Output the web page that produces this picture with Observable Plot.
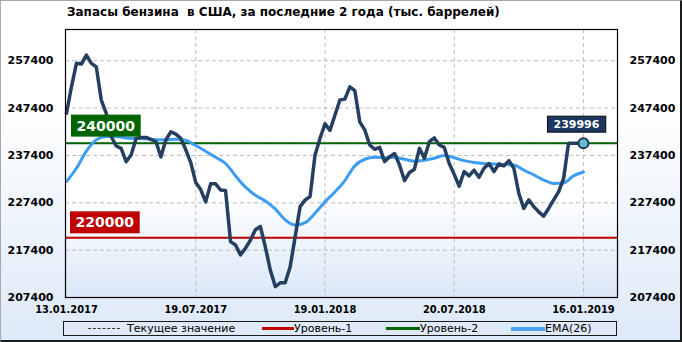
<!DOCTYPE html>
<html>
<head>
<meta charset="utf-8">
<script src="https://cdn.jsdelivr.net/npm/d3@7"></script>
<script src="https://cdn.jsdelivr.net/npm/@observablehq/plot@0.6"></script>
<style>
  body { margin: 0; }
  #wrap { position: relative; width: 682px; height: 342px; overflow: hidden;
          background: linear-gradient(#ffffff 0%, #ffffff 30%, #dde9f8 100%); font-family: "DejaVu Sans", sans-serif; }
  #border { position: absolute; left: 0; top: 0; width: 682px; height: 342px; box-sizing: border-box;
            border-top: 1px solid #a8a8a8; border-left: 1px solid #a8a8a8; border-right: 2px solid #1c1c1c; border-bottom: 2px solid #1c1c1c; z-index: 5; }
  #title { position: absolute; left: 67px; top: 5px; font-size: 12px; font-weight: bold; color: #000; white-space: pre; }
  #chart { position: absolute; left: 0; top: 0; }
  #legend { position: absolute; left: 63px; top: 321px; width: 554px; height: 15px; box-sizing: border-box; border: 1px solid #1c1c1c; font-size: 11px; color: #000; }
  .lg { position: absolute; top: 0px; line-height: 13px; white-space: nowrap; }
  .sw { position: absolute; height: 0; }
</style>
</head>
<body>
<div id="wrap">
  <div id="title">Запасы бензина  в США, за последние 2 года (тыс. баррелей)</div>
  <div id="chart"></div>
  <div id="legend"></div>
  <div id="border"></div>
</div>
<script>
// ---- data ----
const weeklyValues = [
  246300, 251900, 256850, 256700, 258600, 256850, 256100, 249100, 246300, 241400,
  239400, 238900, 236100, 237500, 241000, 241200, 241200, 240800, 240300, 237100,
  240700, 242400, 241900, 241000, 238600, 235900, 231700, 230200, 227600, 231400,
  231400, 230100, 230000, 219200, 218500, 216400, 217800, 219500, 221700, 222400,
  218100, 213200, 209700, 210500, 210500, 213900, 220200, 226600, 228000, 228700,
  237500, 241000, 244100, 242700, 245900, 249100, 249300, 251900, 251100, 244500,
  242800, 239600, 238700, 239100, 236100, 237100, 237800, 235400, 232100, 233800,
  234500, 238900, 236800, 240300, 241100, 239600, 239100, 235700, 233400, 230900,
  234000, 233100, 234300, 232800, 234700, 235700, 234000, 235600, 235200, 236300,
  234700, 229400, 226200, 228000, 226600, 225500, 224600, 226200, 228000, 229700,
  232500, 239996, 239996, 239996, 239996
];
const emaWeeks = [0,2,4,6,8,10,12,14,16,18,20,22,24,26,28,30,32,34,36,38,40,42,44,46,48,50,
                  52,54,56,58,60,62,64,66,68,70,72,74,76,78,80,82,84,86,88,90,92,94,96,98,100,102,104];
const emaValues = [231900, 234700, 238300, 240700, 241400, 241400, 241100, 241000, 240900, 240700,
                   240700, 240800, 240600, 239500, 238300, 237000, 235700, 233100, 230700, 229000,
                   227800, 226100, 223800, 222700, 223200, 225200, 227600, 229700, 232100, 235200,
                   236600, 237000, 236900, 237000, 236600, 236200, 236400, 236800, 237400, 236900,
                   236300, 235900, 235700, 235600, 235500, 235400, 234300, 233300, 232200, 231500,
                   231600, 233100, 233900];
const xTickWeeks = [0, 26, 52, 78, 104];
const xTickLabels = ["13.01.2017", "19.07.2017", "19.01.2018", "20.07.2018", "16.01.2019"];
const yTicks = [207400, 217400, 227400, 237400, 247400, 257400];
const level1 = 220000;
const level2 = 240000;
const legendItems = ["Текущее значение", "Уровень-1", "Уровень-2", "EMA(26)"];

// ---- build ----
const series = weeklyValues.map((v, i) => ({i, v}));
const ema = emaWeeks.map((i, k) => ({i, v: emaValues[k]}));
const last = series[series.length - 1];
const gridStyle = {stroke: "#bdbdbd", strokeOpacity: 1, strokeDasharray: "4,3", strokeWidth: 1};
const axisFont = {fontSize: 11, fontWeight: "bold", fill: "#000", label: null};

const svg = Plot.plot({
  width: 682, height: 320,
  marginTop: 29, marginBottom: 23, marginLeft: 65, marginRight: 65,
  x: {domain: [-0.2, 110.85], axis: null, label: null},
  y: {domain: [207400, 264000], axis: null, label: null},
  style: {background: "transparent", fontFamily: "DejaVu Sans, sans-serif", overflow: "visible"},
  marks: [
    Plot.frame({fill: "url(#plotBg)", stroke: "none"}),
    Plot.gridY(yTicks, gridStyle),
    Plot.gridX(xTickWeeks.slice(1), gridStyle),
    Plot.axisY(yTicks, {anchor: "left", tickSize: 0, tickPadding: 12, tickFormat: d => String(d), ...axisFont}),
    Plot.axisY(yTicks, {anchor: "right", tickSize: 0, tickPadding: 12, tickFormat: d => String(d), ...axisFont}),
    Plot.axisX(xTickWeeks, {anchor: "bottom", tickSize: 0, tickPadding: 8,
      tickFormat: (d) => xTickLabels[xTickWeeks.indexOf(d)], ...axisFont, fontFamily: "DejaVu Sans Condensed, DejaVu Sans"}),
    Plot.ruleY([last.v], {stroke: "#666", strokeDasharray: "3,3", strokeWidth: 1}),
    Plot.ruleY([level1], {stroke: "#c00000", strokeWidth: 2}),
    Plot.ruleY([level2], {stroke: "#006400", strokeWidth: 2}),
    Plot.line(ema, {x: "i", y: "v", stroke: "#3d9df5", strokeWidth: 3, curve: "monotone-x"}),
    Plot.line(series, {x: "i", y: "v", stroke: "#243f60", strokeWidth: 3.5, strokeLinejoin: "round"}),
    Plot.text([level2], {y: d => d, frameAnchor: "left", dx: 11, dy: -17, text: d => String(d),
      textAnchor: "start", fill: "#fff", fontSize: 14, fontWeight: "bold", className: "lbl-green"}),
    Plot.text([level1], {y: d => d, frameAnchor: "left", dx: 10, dy: -15, text: d => String(d),
      textAnchor: "start", fill: "#fff", fontSize: 14, fontWeight: "bold", className: "lbl-red"}),
    Plot.dot([last], {x: "i", y: "v", r: 5, fill: "#66bccb", stroke: "#1d3a5e", strokeWidth: 2}),
    Plot.text([last], {x: "i", y: "v", text: d => String(d.v), dx: -7, dy: -19,
      fill: "#fff", fontSize: 11, fontWeight: "bold", className: "lbl-cur"}),
    Plot.frame({stroke: "#000", strokeWidth: 1.2})
  ]
});

const ns = "http://www.w3.org/2000/svg";
const defs = document.createElementNS(ns, "defs");
defs.innerHTML = '<linearGradient id="plotBg" x1="0" y1="0" x2="0" y2="1">' +
  '<stop offset="0" stop-color="#ffffff"/><stop offset="0.62" stop-color="#ffffff"/>' +
  '<stop offset="1" stop-color="#dbe8f8"/></linearGradient>';
svg.insertBefore(defs, svg.firstChild);
document.getElementById("chart").appendChild(svg);

function boxBehind(cls, fill, stroke, padX, padY) {
  svg.querySelectorAll("g." + cls + " text").forEach(t => {
    const b = t.getBBox();
    const r = document.createElementNS(ns, "rect");
    r.setAttribute("x", b.x - padX);
    r.setAttribute("y", b.y - padY);
    r.setAttribute("width", b.width + 2 * padX);
    r.setAttribute("height", b.height + 2 * padY);
    r.setAttribute("fill", fill);
    if (stroke) { r.setAttribute("stroke", stroke); r.setAttribute("stroke-width", 1); }
    const tr = t.getAttribute("transform");
    if (tr) r.setAttribute("transform", tr);
    t.parentNode.insertBefore(r, t);
  });
}
boxBehind("lbl-green", "#006400", null, 5.5, 3);
boxBehind("lbl-red", "#c00000", null, 5.5, 3);
boxBehind("lbl-cur", "#1c3860", "#0a0a0a", 6, 1.5);

// ---- legend ----
const legend = document.getElementById("legend");
const lg = [
  {sw: 24, sw2: 56, style: "border-top:1px dashed #333;", tx: 63},
  {sw: 198, sw2: 230, style: "border-top:3px solid #c00000;", tx: 230},
  {sw: 322, sw2: 356, style: "border-top:3px solid #006400;", tx: 356},
  {sw: 447, sw2: 481, style: "border-top:4px solid #4aa3f5;", tx: 481}
];
lg.forEach((o, k) => {
  const s = document.createElement("div");
  s.className = "sw";
  s.style.cssText = `left:${o.sw}px;width:${o.sw2 - o.sw}px;top:${k === 0 ? 6 : 5}px;` + o.style;
  legend.appendChild(s);
  const t = document.createElement("div");
  t.className = "lg";
  t.style.left = o.tx + "px";
  t.textContent = legendItems[k];
  legend.appendChild(t);
});
</script>
</body>
</html>
